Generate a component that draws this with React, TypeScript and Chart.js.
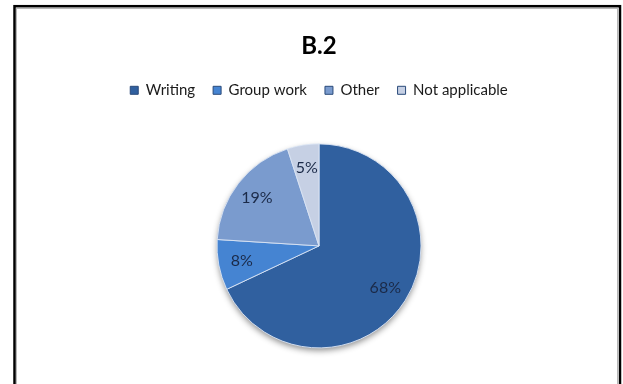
import React, { useEffect, useRef } from "react";
import { Chart, registerables } from "chart.js";

Chart.register(...registerables);

const categories = ["Writing", "Group work", "Other", "Not applicable"];
const values = [68, 8, 19, 5];
const valueLabels = ["68%", "8%", "19%", "5%"];
const sliceColors = ["#30609F", "#4584D2", "#7A9BCE", "#C6D0E4"];
const titleText = "B.2";

const FONT = "Lato, 'Open Sans', 'Noto Sans', sans-serif";

const framePlugin = {
  id: "frame",
  beforeDraw(chart: any) {
    const ctx = chart.ctx;
    ctx.save();
    ctx.fillStyle = "#ffffff";
    ctx.fillRect(0, 0, chart.width, chart.height);
    ctx.strokeStyle = "#000000";
    ctx.lineWidth = 2.5;
    ctx.strokeRect(14.5, 6.2, 605.5, 420);
    ctx.strokeStyle = "#b8b8b8";
    ctx.lineWidth = 1;
    ctx.strokeRect(16.5, 8.5, 601, 420);
    ctx.restore();
  },
};

const shadowPlugin = {
  id: "pieShadow",
  beforeDatasetsDraw(chart: any) {
    const meta = chart.getDatasetMeta(0);
    const el = meta.data[0];
    if (!el) return;
    const { x, y, outerRadius } = el.getProps(["x", "y", "outerRadius"], true);
    const ctx = chart.ctx;
    ctx.save();
    ctx.shadowColor = "rgba(0,0,0,0.45)";
    ctx.shadowBlur = 6;
    ctx.shadowOffsetY = 3;
    ctx.fillStyle = "#2B5A96";
    ctx.beginPath();
    ctx.arc(x, y, outerRadius - 0.5, 0, Math.PI * 2);
    ctx.fill();
    ctx.restore();
  },
};

const labelPlugin = {
  id: "sliceLabels",
  afterDatasetsDraw(chart: any) {
    const meta = chart.getDatasetMeta(0);
    const ctx = chart.ctx;
    ctx.save();
    ctx.font = `16px ${FONT}`;
    ctx.fillStyle = "#1B2A48";
    ctx.textAlign = "center";
    ctx.textBaseline = "middle";
    meta.data.forEach((el: any, i: number) => {
      const { x, y, startAngle, endAngle, outerRadius } = el.getProps(
        ["x", "y", "startAngle", "endAngle", "outerRadius"],
        true
      );
      const mid = (startAngle + endAngle) / 2;
      const r = outerRadius * 0.77;
      ctx.fillText(valueLabels[i], x + Math.cos(mid) * r, y + Math.sin(mid) * r);
    });
    ctx.restore();
  },
};

export default function App() {
  const ref = useRef<HTMLCanvasElement | null>(null);

  useEffect(() => {
    if (!ref.current) return;
    const chart = new Chart(ref.current, {
      type: "pie",
      data: {
        labels: categories,
        datasets: [
          {
            data: values,
            backgroundColor: sliceColors,
            borderColor: "rgba(220,230,245,0.9)",
            borderWidth: 1,
          },
        ],
      },
      options: {
        animation: false,
        responsive: false,
        maintainAspectRatio: false,
        radius: 102,
        layout: { padding: { left: 15, right: 0, top: 0, bottom: 0 } },
        plugins: {
          title: {
            display: true,
            text: titleText,
            color: "#000000",
            font: { family: FONT, size: 24, weight: "bold" },
            padding: { top: 32, bottom: 4 },
          },
          legend: {
            display: true,
            position: "top",
            labels: {
              color: "#1a1a1a",
              font: { family: FONT, size: 15 },
              boxWidth: 8,
              boxHeight: 8,
              padding: 18,
              generateLabels: (c: any) =>
                categories.map((name, i) => ({
                  text: name,
                  fillStyle: sliceColors[i],
                  strokeStyle: "#2A4A7A",
                  lineWidth: 1,
                  hidden: false,
                  index: i,
                  fontColor: "#1a1a1a",
                })),
            },
          },
          tooltip: { enabled: false },
        },
      },
      plugins: [framePlugin, shadowPlugin, labelPlugin],
    });
    return () => chart.destroy();
  }, []);

  return (
    <div style={{ position: "fixed", left: 0, top: 0, width: 623, height: 384 }}>
      <canvas ref={ref} width={623} height={384} style={{ display: "block" }} />
    </div>
  );
}
